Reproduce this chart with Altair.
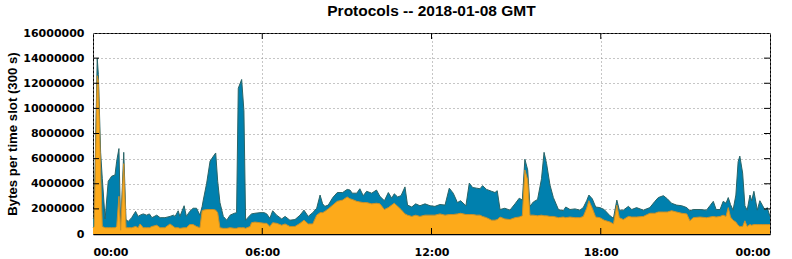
import altair as alt
import pandas as pd

# Time of day (hours) and stacked totals (millions of bytes per 300 s slot)
hours = [0.00, 0.04, 0.15, 0.19, 0.27, 0.33, 0.43, 0.54, 0.66, 0.78, 0.84, 0.92, 0.98, 1.09, 1.17,
         1.25, 1.37, 1.51, 1.60, 1.67, 1.78, 1.90, 2.00, 2.09, 2.26, 2.38, 2.55, 2.73, 2.85, 2.91,
         3.02, 3.08, 3.23, 3.31, 3.43, 3.55, 3.67, 3.79, 3.87, 3.91, 4.03, 4.15, 4.27, 4.35, 4.42,
         4.50, 4.62, 4.74, 4.86, 5.01, 5.09, 5.15, 5.27, 5.35, 5.41, 5.57, 5.62, 5.74, 5.92, 6.07,
         6.16, 6.27, 6.37, 6.51, 6.69, 6.81, 6.98, 7.16, 7.34, 7.48, 7.63, 7.79, 7.93, 8.05, 8.14,
         8.22, 8.34, 8.50, 8.66, 8.85, 9.01, 9.11, 9.19, 9.35, 9.46, 9.58, 9.70, 9.88, 10.05, 10.17,
         10.33, 10.47, 10.59, 10.68, 10.80, 10.92, 11.06, 11.15, 11.30, 11.44, 11.59, 11.77, 11.95, 12.12, 12.30,
         12.48, 12.63, 12.77, 12.92, 13.03, 13.22, 13.34, 13.46, 13.60, 13.72, 13.81, 13.95, 14.13, 14.25, 14.33,
         14.43, 14.60, 14.78, 14.96, 15.11, 15.22, 15.31, 15.41, 15.49, 15.61, 15.76, 15.90, 15.99, 16.08, 16.20,
         16.32, 16.50, 16.67, 16.76, 16.91, 17.09, 17.26, 17.38, 17.50, 17.58, 17.70, 17.82, 17.97, 18.12, 18.33,
         18.45, 18.57, 18.66, 18.80, 18.98, 19.10, 19.27, 19.51, 19.74, 19.92, 20.04, 20.22, 20.36, 20.51, 20.69,
         20.87, 21.05, 21.16, 21.28, 21.52, 21.75, 21.87, 21.99, 22.09, 22.23, 22.34, 22.44, 22.52, 22.60, 22.69,
         22.79, 22.87, 22.93, 23.03, 23.11, 23.19, 23.29, 23.35, 23.43, 23.55, 23.64, 23.74, 23.82, 23.90, 24.00]

# top of the blue band (all protocols)
total_m = [1.2, 1.3, 14.0, 12.7, 6.5, 4.4, 1.2, 4.2, 4.6, 4.7, 5.8, 6.8, 0.5, 6.5, 1.15,
           1.0, 1.3, 1.8, 1.4, 1.5, 1.6, 1.5, 1.6, 1.3, 1.5, 1.3, 1.3, 1.4, 1.5, 1.4,
           1.85, 1.4, 2.25, 1.4, 1.8, 2.05, 2.05, 1.5, 2.2, 2.7, 4.05, 5.8, 6.2, 6.45, 4.2,
           2.5, 1.4, 1.1, 1.5, 1.65, 1.7, 11.6, 12.3, 9.8, 1.1, 1.5, 1.6, 1.65, 1.7, 1.7,
           1.6, 1.25, 1.85, 1.5, 1.2, 1.4, 1.1, 1.15, 1.5, 1.9, 1.4, 1.7, 2.05, 3.1, 2.4,
           2.2, 2.3, 2.9, 3.3, 3.3, 3.55, 3.5, 3.25, 3.25, 3.6, 3.05, 3.4, 3.25, 3.5, 3.0,
           2.65, 3.3, 2.85, 3.2, 2.95, 3.05, 3.75, 2.3, 2.15, 2.4, 2.25, 2.4, 2.25, 2.2, 2.35,
           2.3, 3.65, 3.25, 2.5, 2.65, 2.25, 4.05, 3.7, 3.65, 3.6, 3.85, 3.55, 3.4, 3.3, 3.45,
           1.95, 2.05, 1.9, 2.4, 2.85, 2.7, 5.95, 5.1, 2.2, 2.55, 2.75, 4.4, 6.5, 5.6, 3.9,
           2.9, 1.95, 1.85, 2.15, 1.95, 2.0, 1.9, 2.1, 2.65, 3.1, 2.8, 2.15, 2.1, 1.95, 1.45,
           1.25, 2.7, 1.9, 1.9, 2.2, 1.95, 2.1, 1.9, 2.1, 2.6, 2.9, 3.05, 2.8, 2.45, 2.3,
           2.25, 2.1, 1.85, 1.95, 1.95, 1.9, 2.25, 2.6, 1.95, 1.95, 2.6, 2.45, 2.9, 2.35, 1.9,
           3.1, 5.75, 6.2, 4.85, 2.25, 1.9, 3.1, 2.65, 3.4, 1.9, 2.65, 2.25, 1.9, 2.1, 1.4]

# top of the orange band
orange_m = [0.5, 0.6, 12.6, 12.2, 5.0, 0.6, 0.5, 0.5, 0.5, 0.5, 0.6, 3.0, 0.3, 5.6, 0.5,
            0.5, 0.5, 0.6, 0.5, 0.8, 0.5, 0.5, 0.5, 0.6, 0.7, 0.5, 0.5, 0.8, 0.6, 0.5,
            0.5, 0.45, 0.5, 0.5, 0.75, 0.75, 0.6, 0.5, 1.85, 1.9, 1.95, 1.95, 1.95, 1.9, 1.7,
            0.5, 0.45, 0.45, 0.5, 0.45, 0.45, 0.5, 0.5, 0.5, 0.45, 0.6, 0.9, 0.95, 0.9, 0.85,
            0.85, 0.6, 0.9, 0.85, 0.7, 0.8, 0.6, 0.6, 0.85, 1.1, 0.8, 0.8, 1.5, 1.7, 1.7,
            1.8, 2.0, 2.3, 2.6, 2.7, 2.95, 2.8, 2.75, 2.6, 2.55, 2.5, 2.5, 2.4, 2.45, 2.4,
            1.95, 2.1, 2.3, 2.45, 2.2, 1.95, 1.6, 1.5, 1.4, 1.5, 1.4, 1.5, 1.5, 1.5, 1.6,
            1.5, 1.55, 1.55, 1.6, 1.65, 1.55, 1.55, 1.55, 1.5, 1.5, 1.4, 1.3, 1.1, 1.1, 1.15,
            1.35, 1.2, 1.15, 1.3, 1.35, 1.45, 5.1, 4.3, 1.5, 1.5, 1.45, 1.5, 1.45, 1.45, 1.4,
            1.4, 1.3, 1.35, 1.3, 1.35, 1.3, 1.3, 1.4, 2.05, 2.65, 2.05, 1.35, 1.3, 1.1, 0.95,
            0.8, 2.3, 1.3, 1.15, 1.4, 1.35, 1.35, 1.4, 1.65, 1.65, 1.75, 1.75, 1.75, 1.85, 1.75,
            1.65, 1.6, 1.05, 1.3, 1.35, 1.3, 1.35, 1.4, 1.35, 1.4, 1.5, 1.4, 2.1, 1.35, 1.1,
            0.95, 0.7, 0.6, 0.6, 1.05, 0.6, 0.75, 0.7, 0.75, 0.75, 0.75, 0.75, 0.75, 0.75, 0.75]

y_ticks = [2, 4, 6, 8, 10, 12, 14]
x_ticks = [6, 12, 18]

BLUE = "#0080AE"
ORANGE = "#FDAA1A"
FONT = "DejaVu Sans"
TFONT = "Liberation Sans"

df = pd.DataFrame({
    "hour": hours,
    "total": [v * 1e6 for v in total_m],
    "orange": [v * 1e6 for v in orange_m],
})
df_y = pd.DataFrame({"total": [v * 1e6 for v in y_ticks]})
df_x = pd.DataFrame({"hour": x_ticks})

xscale = alt.Scale(domain=[0, 24], nice=False, zero=False)
yscale = alt.Scale(domain=[0, 16e6], nice=False)

x_axis = alt.Axis(
    values=[0, 6, 12, 18, 24],
    labelExpr="datum.value == 24 ? '00:00' : (datum.value < 10 ? '0' : '') + datum.value + ':00'",
    title=None, grid=True, gridDash=[1, 3], gridColor="#8c8c8c",
    ticks=False, labelPadding=12, labelFont=FONT, labelFontWeight="bold",
    labelFontSize=11, labelColor="black", domainColor="black", domainWidth=1.5,
)
y_axis = alt.Axis(
    values=[0, 2e6, 4e6, 6e6, 8e6, 10e6, 12e6, 14e6, 16e6], format="d",
    title="Bytes per time slot (300 s)", grid=True, gridDash=[1, 3], gridColor="#8c8c8c",
    ticks=False, labelPadding=9, labelFont=FONT, labelFontWeight="bold",
    labelFontSize=11, labelColor="black", domain=False,
    titleFont=TFONT, titleFontWeight="bold", titleFontSize=13.2, titleColor="black",
    titleAngle=270, titleX=-77, titleY=100.5, titleAlign="center", titleBaseline="alphabetic",
)

X = alt.X("hour:Q", scale=xscale, axis=x_axis)
Y_TOTAL = alt.Y("total:Q", scale=yscale, axis=y_axis)

base = alt.Chart(df)
blue = base.mark_area(color=BLUE, opacity=1, line={"color": "#2a6466", "strokeWidth": 1}).encode(
    x=X, y=Y_TOTAL,
)
orange = base.mark_area(color=ORANGE, opacity=1, line={"color": "#c9902a", "strokeWidth": 1}).encode(
    x=X, y=alt.Y("orange:Q", scale=yscale, axis=y_axis),
)

right_ticks = alt.Chart(df_y).mark_rule(color="black", strokeWidth=1).encode(
    x=alt.value(671), x2=alt.value(677), y=Y_TOTAL)
left_ticks = alt.Chart(df_y).mark_rule(color="black", strokeWidth=1).encode(
    x=alt.value(0), x2=alt.value(6), y=Y_TOTAL)
top_ticks = alt.Chart(df_x).mark_rule(color="black", strokeWidth=1).encode(
    x=X, y=alt.value(0), y2=alt.value(6))
bottom_ticks = alt.Chart(df_x).mark_rule(color="black", strokeWidth=1).encode(
    x=X, y=alt.value(195), y2=alt.value(201))

chart = alt.layer(blue, orange, right_ticks, left_ticks, top_ticks, bottom_ticks).properties(
    width=677, height=201,
    title=alt.TitleParams("Protocols -- 2018-01-08 GMT", font=TFONT, fontSize=15.5,
                          fontWeight="bold", color="black", anchor="middle", offset=8),
    autosize=alt.AutoSizeParams(type="none"),
    padding={"left": 93, "top": 33, "right": 22, "bottom": 25},
).configure_view(stroke="black", strokeWidth=1)

chart.save("out.html", embed_options={"renderer": "svg", "actions": False})
